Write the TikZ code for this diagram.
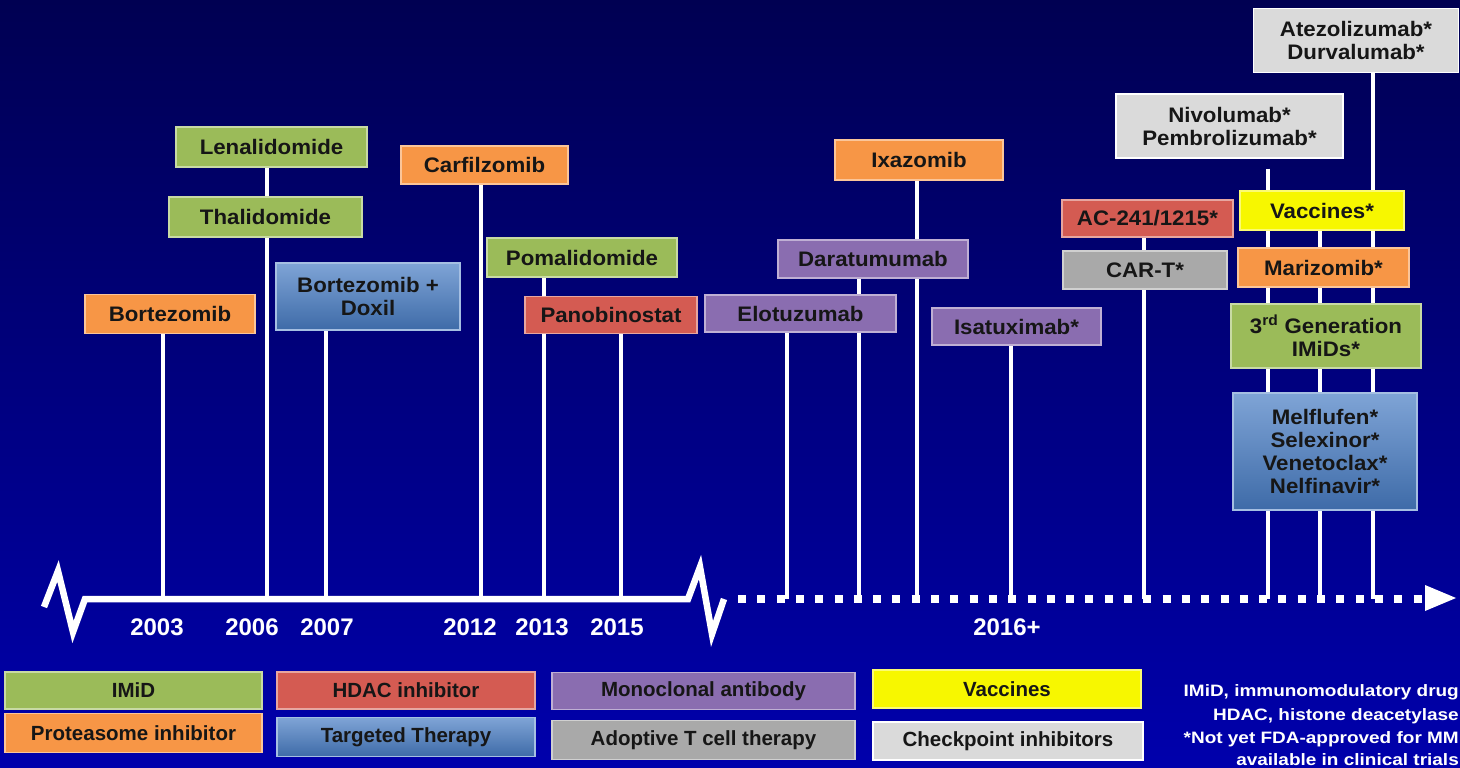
\documentclass[tikz,border=0pt]{standalone}
\usepackage{fontspec}
\setmainfont{Liberation Sans}
\newfontfamily\boxfont{Liberation Sans}[FakeStretch=1.06]
\newfontfamily\notefont{Liberation Sans}[FakeStretch=1.15]
\usetikzlibrary{arrows.meta, positioning}
\pgfdeclarelayer{back}
\pgfdeclarelayer{mid}
\pgfsetlayers{back,mid,main}

\definecolor{bgtop}{HTML}{000052}
\definecolor{bgbot}{HTML}{0000AC}
\definecolor{imidgreen}{HTML}{9BBB59}
\definecolor{protorange}{HTML}{F79646}
\definecolor{hdacred}{HTML}{D45B52}
\definecolor{mabpurple}{HTML}{8A6DB0}
\definecolor{targtop}{HTML}{7FA4D6}
\definecolor{targbot}{HTML}{3E6BA8}
\definecolor{actgrey}{HTML}{A9A9A9}
\definecolor{chkgrey}{HTML}{DADADA}
\definecolor{vaccyellow}{HTML}{F7F700}
\definecolor{ink}{HTML}{161616}

\tikzstyle{drug} = [rectangle, line width=1.2pt, inner sep=0pt, align=center, text=ink, font=\boxfont\bfseries\fontsize{21}{23}\selectfont]
\tikzstyle{imid} = [drug, fill=imidgreen, draw=imidgreen!55!white]
\tikzstyle{prot} = [drug, fill=protorange, draw=protorange!55!white]
\tikzstyle{hdac} = [drug, fill=hdacred, draw=hdacred!55!white]
\tikzstyle{mab} = [drug, fill=mabpurple, draw=mabpurple!55!white]
\tikzstyle{targ} = [drug, top color=targtop, bottom color=targbot, draw=targtop!70!white]
\tikzstyle{act} = [drug, fill=actgrey, draw=actgrey!55!white]
\tikzstyle{chk} = [drug, fill=chkgrey, draw=white]
\tikzstyle{vacc} = [drug, fill=vaccyellow, draw=vaccyellow!55!white]
\tikzstyle{legbox} = [font=\bfseries\fontsize{20.5}{22}\selectfont]
\tikzstyle{year} = [white, font=\bfseries\fontsize{24}{26}\selectfont]
\tikzstyle{note} = [white, inner sep=0pt, anchor=east, font=\notefont\bfseries\fontsize{16.5}{18}\selectfont]
\tikzstyle{stem} = [draw=white, line width=4pt]
\tikzstyle{tline} = [draw=white, line width=6.5pt, line join=miter]
\tikzstyle{tdots} = [draw=white, line width=8pt, dash pattern=on 8pt off 11.3pt]

\begin{document}
\begin{tikzpicture}[x=1pt, y=-1pt]
  \useasboundingbox (0,0) rectangle (1460,768);
  \begin{pgfonlayer}{back}
    \shade[top color=bgtop, bottom color=bgbot] (0,0) rectangle (1460,768);
  \end{pgfonlayer}

  % approved drugs
  \node[imid, minimum width=191pt, minimum height=40pt] (lenal) at (271.5,147) {Lenalidomide};
  \node[imid, minimum width=193pt, minimum height=40pt] (thal) at (265.5,217) {Thalidomide};
  \node[prot, minimum width=170pt, minimum height=39pt] (bort) at (170,314) {Bortezomib};
  \node[targ, minimum width=184pt, minimum height=67pt] (doxil) at (368,296.5) {Bortezomib +\\Doxil};
  \node[prot, minimum width=167pt, minimum height=38pt] (carf) at (484.5,165) {Carfilzomib};
  \node[imid, minimum width=190pt, minimum height=39pt] (pomal) at (582,257.5) {Pomalidomide};
  \node[hdac, minimum width=172pt, minimum height=37pt] (panob) at (611,315) {Panobinostat};
  \node[prot, minimum width=168pt, minimum height=40pt] (ixaz) at (919,160) {Ixazomib};
  \node[mab, minimum width=190pt, minimum height=38pt] (darat) at (873,259) {Daratumumab};
  \node[mab, minimum width=191pt, minimum height=37pt] (elotu) at (800.5,313.5) {Elotuzumab};

  % 2016+ pipeline
  \node[mab, minimum width=169pt, minimum height=37pt] (isatu) at (1016.5,326.5) {Isatuximab*};
  \node[hdac, minimum width=171pt, minimum height=37pt] (ac241) at (1147.5,218.5) {AC-241/1215*};
  \node[act, minimum width=164pt, minimum height=38pt] (cart) at (1145,270) {CAR-T*};
  \node[chk, minimum width=227pt, minimum height=64pt] (nivo) at (1229.5,126) {Nivolumab*\\Pembrolizumab*};
  \node[chk, minimum width=205pt, minimum height=64pt] (atezo) at (1356,40.5) {Atezolizumab*\\Durvalumab*};
  \node[vacc, minimum width=164pt, minimum height=39pt] (vacc) at (1322,210.5) {Vaccines*};
  \node[prot, minimum width=171pt, minimum height=39pt] (mariz) at (1323.5,267.5) {Marizomib*};
  \node[imid, minimum width=190pt, minimum height=64pt] (imids) at (1326,336) {3\textsuperscript{rd} Generation\\IMiDs*};
  \node[targ, minimum width=184pt, minimum height=117pt] (melf) at (1325,451.5) {Melflufen*\\Selexinor*\\Venetoclax*\\Nelfinavir*};

  % timeline
  \coordinate (t2003) at (163,599);
  \coordinate (t2006) at (267,599);
  \coordinate (t2007) at (326,599);
  \coordinate (t2012) at (481,599);
  \coordinate (t2013) at (544,599);
  \coordinate (t2015) at (621,599);
  \coordinate (tElo) at (787,599);
  \coordinate (tDara) at (859,599);
  \coordinate (tIxa) at (917,599);
  \coordinate (tIsa) at (1011,599);
  \coordinate (tCar) at (1144,599);
  \coordinate (tNivo) at (1268,599);
  \coordinate (tVacc) at (1320,599);
  \coordinate (tAtezo) at (1373,599);
  \coordinate (breakA) at (688,599);
  \coordinate (dotStart) at (738,599);
  \coordinate (dotEnd) at (1424,599);

  \draw[tline] (44,607) -- (58,571) -- (73,632) -- (85,599) -- (breakA) -- (700,567) -- (712,634) -- (724,599);
  \draw[tdots] (dotStart) -- (dotEnd);
  \fill[white] (1425,585) -- (1456,598) -- (1425,611) -- cycle;

  \begin{pgfonlayer}{mid}
    \draw[stem] (t2003 |- bort.south) -- (t2003);
    \draw[stem] (t2006 |- lenal.south) -- (t2006);
    \draw[stem] (t2007 |- doxil.south) -- (t2007);
    \draw[stem] (t2012 |- carf.south) -- (t2012);
    \draw[stem] (t2013 |- pomal.south) -- (t2013);
    \draw[stem] (t2015 |- panob.south) -- (t2015);
    \draw[stem] (tElo |- elotu.south) -- (tElo);
    \draw[stem] (tDara |- darat.south) -- (tDara);
    \draw[stem] (tIxa |- ixaz.south) -- (tIxa);
    \draw[stem] (tIsa |- isatu.south) -- (tIsa);
    \draw[stem] (tCar |- ac241.south) -- (tCar);
    \draw[stem, shorten <=10pt] (tNivo |- nivo.south) -- (tNivo);
    \draw[stem] (tVacc |- vacc.south) -- (tVacc);
    \draw[stem] (tAtezo |- atezo.south) -- (tAtezo);
  \end{pgfonlayer}

  \node[year] (y2003) at (157,627) {2003};
  \node[year] (y2006) at (252,627) {2006};
  \node[year] (y2007) at (327,627) {2007};
  \node[year] (y2012) at (470,627) {2012};
  \node[year] (y2013) at (542,627) {2013};
  \node[year] (y2015) at (617,627) {2015};
  \node[year] (y2016) at (1007,627) {2016+};

  % legend
  \node[imid, legbox, minimum width=257pt, minimum height=37pt] (lgImid) at (133.5,690.5) {IMiD};
  \node[hdac, legbox, minimum width=258pt, minimum height=37pt] (lgHdac) at (406,690.5) {HDAC inhibitor};
  \node[mab, legbox, minimum width=303pt, minimum height=37pt] (lgMab) at (703.5,691) {Monoclonal antibody};
  \node[vacc, legbox, minimum width=268pt, minimum height=38pt] (lgVacc) at (1007,689) {Vaccines};
  \node[prot, legbox, minimum width=257pt, minimum height=39pt] (lgProt) at (133.5,733) {Proteasome inhibitor};
  \node[targ, legbox, minimum width=258pt, minimum height=39pt] (lgTarg) at (406,737) {Targeted Therapy};
  \node[act, legbox, minimum width=303pt, minimum height=39pt] (lgAct) at (703.5,740) {Adoptive T cell therapy};
  \node[chk, legbox, minimum width=270pt, minimum height=38pt] (lgChk) at (1008,741) {Checkpoint inhibitors};

  \node[note] (fn1) at (1459,692) {IMiD, immunomodulatory drug};
  \node[note] (fn2) at (1459,716) {HDAC, histone deacetylase};
  \node[note] (fn3) at (1459,739) {*Not yet FDA-approved for MM};
  \node[note] (fn4) at (1459,760) {available in clinical trials};
\end{tikzpicture}
\end{document}
